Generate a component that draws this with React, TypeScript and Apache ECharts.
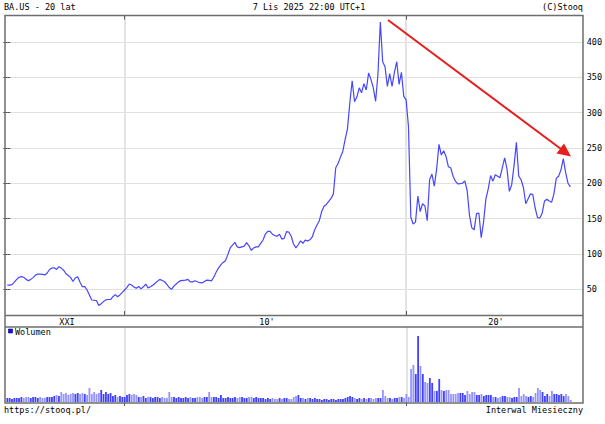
import React, { useEffect, useRef } from "react";
import * as echarts from "echarts";

// Monthly closes BA.US, Nov 2005 .. Nov 2025 (month index 0 = 2005-11)
const PRICE: number[] = [
  56, 56, 56.5, 60, 64, 67, 68, 67, 64, 62,
  64, 66.5, 70, 71.6, 71.4, 71, 70.3, 73, 78, 80,
  80.5, 78, 82, 80, 77, 72, 69.5, 66.5, 61, 66,
  67.8, 60, 53.7, 53.7, 49, 42, 34.8, 34.5, 34, 27,
  29.5, 32.6, 35, 35.5, 35.5, 39.5, 42.5, 39.5, 42, 45.5,
  49, 52.8, 57.5, 56, 53, 51.4, 54, 50.5, 53.5, 57.4,
  52, 53.5, 55.8, 58.5, 61.5, 64, 62.5, 61, 57, 52.5,
  50, 54.5, 57.5, 60.5, 62.2, 62.6, 63, 64, 60.5, 60.5,
  62, 60.7, 59.3, 59, 61, 63, 62.5, 62, 67, 74,
  80, 84.5, 88, 90.5, 99, 108.5, 112.5, 116.5, 110, 109,
  110, 111, 116, 111.5, 105, 108.5, 110, 110, 115, 119.7,
  128, 132, 132, 128, 126, 125, 128, 121, 122, 131.5,
  131, 125, 114, 108.5, 113, 118.5, 115, 119.5, 118.5, 120,
  124, 134, 141, 147, 160, 167.5, 170, 174.5, 178.5, 185,
  222, 228, 237, 245, 262, 277, 314, 345, 315.4, 322,
  335, 328, 341, 332, 356, 347, 335, 316, 355, 428,
  372, 365, 337, 355, 337, 357, 372, 340, 357, 323,
  318, 280, 152, 142.4, 145, 182, 160, 171, 168, 147,
  205, 213, 196, 220, 255, 240, 246, 238, 223.4, 222,
  210, 203, 199, 199.5, 200, 203.5, 190, 155, 137, 134,
  157, 158, 123, 145, 178, 192, 211, 203, 212, 210,
  208, 222, 236, 220, 188.5, 198, 225, 258, 210, 205,
  194, 171, 178, 185, 184, 165, 151.5, 151, 158, 175,
  177.5, 175, 173, 185, 207, 210, 219, 235, 215, 200,
  195,
];

// Monthly volume (mln shares, approx.)
const VOLUME: number[] = [
  40, 40, 30, 40, 40, 40, 50, 40, 50, 50,
  40, 50, 50, 40, 50, 40, 40, 50, 50, 50,
  60, 70, 60, 100, 80, 90, 70, 80, 90, 80,
  90, 80, 90, 80, 70, 140, 80, 100, 80, 90,
  120, 80, 100, 80, 90, 60, 70, 50, 60, 50,
  50, 70, 80, 70, 80, 70, 50, 50, 60, 40,
  50, 50, 40, 50, 50, 40, 50, 40, 40, 100,
  50, 50, 40, 50, 40, 40, 50, 40, 50, 40,
  40, 50, 50, 40, 50, 50, 100, 50, 50, 50,
  40, 70, 40, 40, 50, 40, 40, 50, 40, 50,
  50, 40, 40, 50, 50, 40, 50, 40, 40, 40,
  30, 40, 30, 40, 30, 30, 40, 30, 40, 40,
  30, 30, 50, 60, 70, 40, 40, 30, 40, 40,
  30, 40, 30, 30, 20, 30, 30, 20, 30, 30,
  20, 30, 30, 30, 40, 50, 60, 50, 40, 30,
  40, 30, 40, 30, 40, 40, 30, 40, 40, 40,
  120, 60, 40, 40, 30, 40, 40, 50, 50, 40,
  80, 50, 330, 370, 280, 660, 360, 280, 200, 190,
  240, 190, 110, 110, 230, 120, 110, 120, 120, 80,
  80, 80, 90, 90, 90, 70, 110, 80, 100, 100,
  70, 70, 80, 60, 70, 70, 70, 50, 50, 40,
  50, 60, 60, 50, 50, 40, 50, 50, 140, 60,
  80, 60, 50, 60, 50, 90, 140, 120, 100, 60,
  80, 60, 110, 80, 80, 70, 80, 60, 80, 60,
  20,
];

const PRICE_TICKS = [50, 100, 150, 200, 250, 300, 350, 400];
const DECADE_BOUNDS = [50, 170]; // month indices of Jan 2010 and Jan 2020
const DECADE_LABELS = ["XXI", "10'", "20'"];
const TITLE_LEFT = "BA.US - 20 lat";
const TITLE_CENTER = "7 Lis 2025 22:00 UTC+1";
const TITLE_RIGHT = "(C)Stooq";
const FOOT_LEFT = "https://stooq.pl/";
const FOOT_RIGHT = "Interwal Miesieczny";
const LEGEND_VOLUME = "Wolumen";

const FONT = "'DejaVu Sans Mono', monospace";
const FS = 8.5;

export default function App() {
  const ref = useRef<HTMLDivElement>(null);

  useEffect(() => {
    const el = ref.current;
    if (!el) return;
    const chart = echarts.init(el, null, { renderer: "svg" });

    const X_MIN = -0.98;
    const X_MAX = 245.24;
    const Y_MIN = 13.6;
    const Y_MAX = 437.4;

    const priceData = PRICE.map((v, i) => [i, v]);
    const volData = VOLUME.map((v, i) => ({
      value: [i, v],
      itemStyle: {
        color: i > 0 && PRICE[i] < PRICE[i - 1] ? "#9494ff" : "#4040ff",
      },
    }));

    const frame = "#6e6e6e";
    const tickStyle = { color: "#555", width: 1 };
    const txt = (
      text: string,
      x: number,
      y: number,
      align: string = "left"
    ) => ({
      type: "text",
      x,
      y,
      z: 120,
      silent: true,
      style: {
        text,
        fill: "#000",
        font: `${FS}px ${FONT}`,
        align,
        verticalAlign: "middle",
      },
    });

    const option: any = {
      animation: false,
      backgroundColor: "#ffffff",
      grid: [
        { left: 5, top: 15.5, width: 578, height: 299.5 },
        { left: 5, top: 327, width: 578, height: 75 },
      ],
      xAxis: [
        {
          gridIndex: 0,
          type: "value",
          min: X_MIN,
          max: X_MAX,
          position: "bottom",
          axisLine: { show: false },
          axisLabel: { show: false },
          axisTick: {
            show: true,
            inside: true,
            length: 4,
            customValues: DECADE_BOUNDS,
            lineStyle: tickStyle,
          },
          splitLine: {
            show: true,
            lineStyle: { color: "#e3e3e3", width: 2 },
          },
        },
        {
          gridIndex: 0,
          type: "value",
          min: X_MIN,
          max: X_MAX,
          position: "top",
          axisLine: { show: false },
          axisLabel: { show: false },
          axisTick: {
            show: true,
            inside: true,
            length: 4,
            customValues: DECADE_BOUNDS,
            lineStyle: tickStyle,
          },
          splitLine: { show: false },
        },
        {
          gridIndex: 1,
          type: "value",
          min: X_MIN,
          max: X_MAX,
          position: "top",
          axisLine: { show: false },
          axisLabel: { show: false },
          axisTick: {
            show: true,
            inside: true,
            length: 4,
            customValues: DECADE_BOUNDS,
            lineStyle: tickStyle,
          },
          splitLine: {
            show: true,
            lineStyle: { color: "#e3e3e3", width: 2 },
          },
        },
      ],
      yAxis: [
        {
          gridIndex: 0,
          type: "value",
          position: "left",
          min: Y_MIN,
          max: Y_MAX,
          axisLine: { show: false },
          axisLabel: { show: false },
          axisTick: {
            show: true,
            inside: true,
            length: 3,
            customValues: PRICE_TICKS,
            lineStyle: tickStyle,
          },
          splitLine: { show: false },
        },
        {
          gridIndex: 0,
          type: "value",
          position: "right",
          min: Y_MIN,
          max: Y_MAX,
          axisLine: { show: false },
          axisTick: {
            show: true,
            inside: true,
            length: 4,
            customValues: PRICE_TICKS,
            lineStyle: tickStyle,
          },
          axisLabel: {
            show: true,
            customValues: PRICE_TICKS,
            margin: 4,
            color: "#000",
            fontFamily: FONT,
            fontSize: FS,
          },
          splitLine: {
            show: true,
            lineStyle: { color: "#e0e0e0", width: 1 },
          },
        },
        {
          gridIndex: 1,
          type: "value",
          min: 0,
          max: 750,
          show: false,
          splitLine: { show: false },
        },
      ],
      series: [
        {
          type: "line",
          xAxisIndex: 0,
          yAxisIndex: 1,
          data: priceData,
          showSymbol: false,
          symbol: "none",
          silent: true,
          z: 5,
          lineStyle: { color: "#4646ff", width: 1.2 },
        },
        {
          type: "bar",
          xAxisIndex: 2,
          yAxisIndex: 2,
          data: volData,
          barWidth: 1.8,
          silent: true,
          z: 5,
        },
      ],
      graphic: [
        {
          type: "rect",
          z: 110,
          silent: true,
          shape: { x: 5, y: 15.5, width: 578, height: 387.5 },
          style: { fill: "none", stroke: frame, lineWidth: 1.5 },
        },
        {
          type: "line",
          z: 110,
          silent: true,
          shape: { x1: 5, y1: 315.5, x2: 583, y2: 315.5 },
          style: { stroke: frame, lineWidth: 1.5 },
        },
        {
          type: "line",
          z: 110,
          silent: true,
          shape: { x1: 5, y1: 327, x2: 583, y2: 327 },
          style: { stroke: frame, lineWidth: 1.5 },
        },
        txt(DECADE_LABELS[0], 67, 321.5, "center"),
        txt(DECADE_LABELS[1], 267, 321.5, "center"),
        txt(DECADE_LABELS[2], 496, 321.5, "center"),
        txt(TITLE_LEFT, 4, 7, "left"),
        txt(TITLE_CENTER, 309, 7, "center"),
        txt(TITLE_RIGHT, 583, 7, "right"),
        txt(FOOT_LEFT, 4, 410, "left"),
        txt(FOOT_RIGHT, 583, 410, "right"),
        {
          type: "rect",
          z: 120,
          silent: true,
          shape: { x: 8.5, y: 329, width: 4, height: 4 },
          style: { fill: "#1010ff", stroke: "#000080", lineWidth: 0.6 },
        },
        txt(LEGEND_VOLUME, 15, 331.5, "left"),
        {
          type: "line",
          z: 115,
          silent: true,
          shape: { x1: 388, y1: 20, x2: 561, y2: 149 },
          style: { stroke: "#e61e1e", lineWidth: 2 },
        },
        {
          type: "polygon",
          z: 115,
          silent: true,
          shape: {
            points: [
              [571, 156.5],
              [556.5, 153.5],
              [564, 143.5],
            ],
          },
          style: { fill: "#e61e1e" },
        },
      ],
    };

    chart.setOption(option);
    return () => chart.dispose();
  }, []);

  return (
    <div
      ref={ref}
      style={{
        position: "fixed",
        left: 0,
        top: 0,
        width: 605,
        height: 424,
        background: "#fff",
      }}
    />
  );
}
